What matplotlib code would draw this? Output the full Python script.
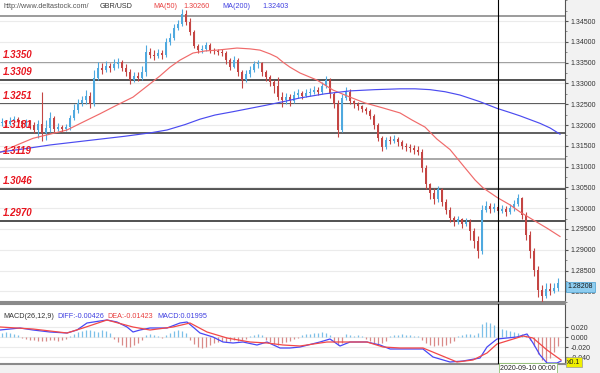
import matplotlib
matplotlib.use('Agg')
import matplotlib.pyplot as plt
from matplotlib.ticker import MultipleLocator, FormatStrFormatter

plt.rcParams['font.family'] = ['Liberation Sans', 'DejaVu Sans']

# GBP/USD candles (open = previous close)
first_open = 1.3205
closes = [
    1.3207, 1.3202, 1.3210, 1.3214, 1.3210, 1.3202, 1.3207, 1.3200, 1.3188, 1.3202,
    1.3181, 1.3193, 1.3217, 1.3190, 1.3195, 1.3190, 1.3195, 1.3217, 1.3236, 1.3253,
    1.3260, 1.3270, 1.3251, 1.3313, 1.3337, 1.3332, 1.3342, 1.3337, 1.3347, 1.3352,
    1.3337, 1.3328, 1.3308, 1.3318, 1.3313, 1.3328, 1.3376, 1.3368, 1.3366, 1.3373,
    1.3368, 1.3400, 1.3409, 1.3433, 1.3443, 1.3467, 1.3448, 1.3424, 1.3390, 1.3380,
    1.3383, 1.3392, 1.3380, 1.3378, 1.3376, 1.3373, 1.3356, 1.3340, 1.3356, 1.3328,
    1.3308, 1.3323, 1.3332, 1.3347, 1.3349, 1.3328, 1.3316, 1.3304, 1.3294, 1.3268,
    1.3260, 1.3268, 1.3258, 1.3272, 1.3277, 1.3270, 1.3277, 1.3280, 1.3284, 1.3280,
    1.3294, 1.3308, 1.3274, 1.3251, 1.3188, 1.3265, 1.3280, 1.3258, 1.3251, 1.3246,
    1.3239, 1.3234, 1.3222, 1.3200, 1.3169, 1.3148, 1.3164, 1.3162, 1.3167, 1.3160,
    1.3150, 1.3148, 1.3145, 1.3141, 1.3136, 1.3097, 1.3057, 1.3037, 1.3023, 1.3045,
    1.3016, 1.2996, 1.2977, 1.2968, 1.2973, 1.2963, 1.2968, 1.2944, 1.2920, 1.2896,
    1.2996, 1.3006, 1.2999, 1.3004, 1.2994, 1.2999, 1.2992, 1.3001, 1.3011, 1.3025,
    1.2984, 1.2936, 1.2896, 1.2852, 1.2804, 1.2790, 1.2806, 1.2802, 1.2809, 1.2821,
]
highs = [
    1.3217, 1.3212, 1.3219, 1.3222, 1.3219, 1.3212, 1.3214, 1.3212, 1.3207, 1.3212,
    1.3280, 1.3212, 1.3232, 1.3222, 1.3205, 1.3200, 1.3202, 1.3224, 1.3251, 1.3263,
    1.3270, 1.3284, 1.3280, 1.3332, 1.3352, 1.3349, 1.3354, 1.3349, 1.3359, 1.3361,
    1.3356, 1.3347, 1.3335, 1.3328, 1.3328, 1.3342, 1.3393, 1.3385, 1.3380, 1.3383,
    1.3380, 1.3409, 1.3421, 1.3443, 1.3453, 1.3479, 1.3477, 1.3457, 1.3428, 1.3395,
    1.3392, 1.3400, 1.3397, 1.3385, 1.3383, 1.3383, 1.3378, 1.3361, 1.3366, 1.3361,
    1.3332, 1.3332, 1.3342, 1.3354, 1.3356, 1.3352, 1.3332, 1.3321, 1.3308, 1.3316,
    1.3280, 1.3277, 1.3275, 1.3282, 1.3287, 1.3282, 1.3287, 1.3289, 1.3294, 1.3292,
    1.3304, 1.3318, 1.3313, 1.3280, 1.3260, 1.3275, 1.3292, 1.3287, 1.3260, 1.3256,
    1.3248, 1.3244, 1.3239, 1.3227, 1.3205, 1.3174, 1.3172, 1.3174, 1.3177, 1.3172,
    1.3164, 1.3157, 1.3155, 1.3153, 1.3150, 1.3143, 1.3105, 1.3061, 1.3049, 1.3054,
    1.3049, 1.3023, 1.3004, 1.2982, 1.2982, 1.2977, 1.2977, 1.2973, 1.2953, 1.2934,
    1.3008, 1.3018, 1.3013, 1.3013, 1.3008, 1.3008, 1.3006, 1.3011, 1.3020, 1.3035,
    1.3028, 1.2992, 1.2944, 1.2905, 1.2862, 1.2816, 1.2819, 1.2819, 1.2821, 1.2831,
]
lows = [
    1.3198, 1.3195, 1.3200, 1.3205, 1.3202, 1.3193, 1.3195, 1.3190, 1.3181, 1.3169,
    1.3162, 1.3164, 1.3183, 1.3183, 1.3186, 1.3183, 1.3186, 1.3188, 1.3212, 1.3229,
    1.3246, 1.3251, 1.3241, 1.3246, 1.3308, 1.3323, 1.3328, 1.3328, 1.3332, 1.3337,
    1.3330, 1.3318, 1.3299, 1.3304, 1.3306, 1.3308, 1.3318, 1.3361, 1.3356, 1.3361,
    1.3359, 1.3364, 1.3392, 1.3404, 1.3428, 1.3438, 1.3441, 1.3417, 1.3385, 1.3373,
    1.3373, 1.3378, 1.3373, 1.3371, 1.3368, 1.3366, 1.3347, 1.3332, 1.3337, 1.3318,
    1.3289, 1.3304, 1.3316, 1.3328, 1.3337, 1.3318, 1.3306, 1.3294, 1.3277, 1.3260,
    1.3244, 1.3251, 1.3246, 1.3253, 1.3265, 1.3263, 1.3268, 1.3270, 1.3275, 1.3272,
    1.3275, 1.3289, 1.3265, 1.3241, 1.3172, 1.3184, 1.3260, 1.3251, 1.3241, 1.3236,
    1.3232, 1.3227, 1.3214, 1.3190, 1.3162, 1.3138, 1.3143, 1.3155, 1.3157, 1.3150,
    1.3143, 1.3138, 1.3136, 1.3131, 1.3128, 1.3088, 1.3047, 1.3023, 1.3011, 1.3016,
    1.3006, 1.2987, 1.2968, 1.2958, 1.2961, 1.2953, 1.2956, 1.2924, 1.2905, 1.2881,
    1.2891, 1.2992, 1.2989, 1.2992, 1.2987, 1.2989, 1.2982, 1.2987, 1.2994, 1.3006,
    1.2973, 1.2924, 1.2881, 1.2838, 1.2787, 1.2773, 1.2785, 1.2792, 1.2797, 1.2802,
]

# moving averages, read at candle positions
ma50_idx = [-0.5, 3.75, 7.75, 12, 16.25, 20.25, 24.5, 28.75, 32.75, 37, 39.5, 42, 44.5,
            47.75, 50.75, 53.75, 58.75, 62, 64.5, 67, 68.75, 70.25, 72, 74.5, 78.75, 80.75,
            82.75, 84.5, 87, 90.75, 95.25, 99.5, 102.5, 105.75, 108.75, 112, 115.75, 118.25,
            120.25, 123.75, 127, 129.5, 132.75, 136.25, 139.5]
ma50_val = [1.3134, 1.3152, 1.3168, 1.3178, 1.3188, 1.3207, 1.3227, 1.3248, 1.3267, 1.3299,
            1.3318, 1.3339, 1.3356, 1.3373, 1.3378, 1.3380, 1.3385, 1.3383, 1.3380, 1.3371,
            1.3363, 1.3351, 1.3339, 1.3325, 1.3308, 1.3296, 1.3284, 1.3277, 1.3267, 1.3253,
            1.3241, 1.3229, 1.3212, 1.3195, 1.3166, 1.3141, 1.3097, 1.3068, 1.3049, 1.3026,
            1.3008, 1.2991, 1.2972, 1.2952, 1.2932]
ma200_idx = [-0.5, 5.75, 12, 18.25, 24.5, 30.75, 37, 41.25, 45.75, 49.5, 53.25, 57.75, 62,
             66.25, 70.75, 74.5, 80.75, 87, 93.25, 99.5, 103.25, 107, 110.75, 114.5, 119.5,
             123.75, 127, 129.5, 134.5, 137, 139.5]
ma200_val = [1.3135, 1.3143, 1.3152, 1.3159, 1.3166, 1.3173, 1.3181, 1.3188, 1.3201, 1.3214,
             1.3224, 1.3232, 1.3240, 1.3248, 1.3257, 1.3265, 1.3275, 1.3282, 1.3285, 1.3287,
             1.3287, 1.3285, 1.3280, 1.3272, 1.3256, 1.3240, 1.3230, 1.3222, 1.3204, 1.3193,
             1.3178]

# MACD(26,12,9)
diff_idx = [-0.5, 4.5, 7.75, 12, 16.25, 18.75, 21.25, 24.5, 26.25, 28.75, 31.25, 32.75,
            34.5, 37, 41.25, 44.5, 46.25, 47.75, 49.5, 52.75, 55.25, 57.75, 60.25, 63.75,
            66.25, 69.5, 72, 74.5, 79.5, 82, 84.5, 87, 91.25, 94.5, 97, 101.25, 105.25,
            107.75, 112, 115.25, 119.5, 121.25, 123.75, 128.75, 131.25, 132.75, 134.5,
            136.25, 138.75, 139.75]
diff_val = [0.014, 0.018, 0.014, 0.010, 0.008, 0.014, 0.028, 0.032, 0.034, 0.030, 0.020, 0.010,
            0.014, 0.018, 0.018, 0.028, 0.030, 0.020, 0.008, 0.000, -0.010, -0.012, -0.010, -0.016,
            -0.010, -0.022, -0.022, -0.020, -0.010, -0.004, -0.018, -0.010, -0.010, -0.016, -0.024,
            -0.024, -0.024, -0.040, -0.050, -0.048, -0.042, -0.020, -0.004, 0.000, 0.006, -0.012,
            -0.036, -0.052, -0.052, -0.048]
dea_idx = [-0.5, 7.75, 16.25, 20.25, 26.25, 32.75, 37, 42.75, 47, 51.25, 56.25, 62, 66.25,
           70.25, 74.5, 81.25, 84.5, 91.25, 95.25, 99.5, 105.25, 109.5, 113.75, 117.75,
           121.25, 123.75, 130.25, 132.75, 136.25, 139.75]
dea_val = [0.020, 0.016, 0.008, 0.018, 0.034, 0.020, 0.014, 0.020, 0.028, 0.010, -0.002, -0.010,
           -0.012, -0.016, -0.018, -0.010, -0.010, -0.010, -0.020, -0.022, -0.022, -0.036, -0.050,
           -0.046, -0.032, -0.014, 0.002, -0.002, -0.026, -0.046]
macd_hist = [
    0.008, 0.010, 0.008, 0.006, 0.004, -0.002, -0.004, -0.006, -0.006, -0.008,
    -0.008, -0.008, -0.006, -0.006, -0.008, -0.006, -0.004, 0.002, 0.006, 0.010,
    0.012, 0.014, 0.014, 0.012, 0.010, 0.014, 0.012, 0.008, -0.004, -0.010,
    -0.016, -0.020, -0.020, -0.016, -0.012, -0.006, 0.004, 0.006, 0.004, 0.002,
    -0.002, 0.004, 0.008, 0.012, 0.014, 0.012, 0.008, -0.006, -0.014, -0.020,
    -0.022, -0.020, -0.016, -0.012, -0.010, -0.008, -0.010, -0.008, -0.006, -0.008,
    -0.006, -0.004, 0.002, 0.004, 0.006, 0.004, -0.006, -0.010, -0.014, -0.016,
    -0.012, -0.010, -0.008, -0.004, -0.002, 0.004, 0.006, 0.006, 0.008, 0.008,
    0.010, 0.008, 0.004, -0.010, -0.016, -0.012, 0.006, 0.004, 0.002, 0.004,
    0.002, -0.004, -0.008, -0.012, -0.014, -0.012, -0.008, 0.002, 0.004, 0.004,
    0.006, 0.004, 0.004, 0.002, 0.002, -0.006, -0.012, -0.016, -0.018, -0.016,
    -0.018, -0.016, -0.012, -0.008, 0.002, 0.004, 0.006, 0.006, 0.004, 0.008,
    0.026, 0.030, 0.028, 0.024, 0.020, 0.016, 0.014, 0.012, 0.010, 0.008,
    0.006, 0.004, -0.006, -0.018, -0.034, -0.046, -0.050, -0.042, -0.030, -0.018,
]

levels = [1.3463, 1.3350, 1.3309, 1.3251, 1.3181, 1.3119, 1.3046, 1.2970]
level_labels = ['1.3463', '1.3350', '1.3309', '1.3251', '1.3181', '1.3119', '1.3046', '1.2970']
price_ticks = [1.280, 1.285, 1.290, 1.295, 1.300, 1.305, 1.310, 1.315, 1.320, 1.325,
               1.330, 1.335, 1.340, 1.345]
macd_ticks = [0.02, 0.0, -0.02, -0.04]
cursor_idx = 124
last_price = 1.28208

W, H = 600, 373
fig = plt.figure(figsize=(6, 3.73), dpi=100, facecolor='#f2f2f2')
ax = fig.add_axes([0, 1 - 302 / H, 565 / W, 302 / H])
ax2 = fig.add_axes([0, 1 - 364 / H, 565 / W, 60 / H])

n = len(closes)
xs = list(range(n))
opens = [first_open] + closes[:-1]
up_c = '#4fa9df'
dn_c = '#c44543'
cols = []
bottoms = []
heights = []
for o, c in zip(opens, closes):
    if c > o:
        cols.append(up_c)
    elif c < o:
        cols.append(dn_c)
    else:
        cols.append('#5cb85c')
    bottoms.append(min(o, c))
    heights.append(max(abs(c - o), 0.00004))

ax.grid(axis='y', color='#ebebeb', lw=0.8, zorder=0)
level_cols = ['#8a8a8a', '#8a8a8a', '#333333', '#333333', '#444444', '#9a9a9a', '#333333', '#333333']
for lev, lab, lc in zip(levels, level_labels, level_cols):
    ax.axhline(lev, color=lc, lw=1.2, zorder=1)
    ax.annotate(lab, xy=(3 / 565, lev), xycoords=('axes fraction', 'data'),
                xytext=(0, 2), textcoords='offset points', fontsize=7,
                fontweight='bold', fontstyle='italic', color='#e8141e', va='bottom', zorder=5)

ax.vlines(xs, lows, highs, colors=cols, lw=0.8, zorder=3)
ax.bar(xs, heights, bottom=bottoms, width=0.6, color=cols, zorder=3)
ax.plot(ma50_idx, ma50_val, color='#f06a6a', lw=0.85, zorder=4)
ax.plot(ma200_idx, ma200_val, color='#4b4bf0', lw=0.85, zorder=4)
ax.axvline(cursor_idx, color='black', lw=0.8, zorder=6)

ax.set_xlim(-0.5, 140.75)
ax.set_ylim(1.27745, 1.35005)
ax.set_xticks([])
ax.yaxis.tick_right()
ax.set_yticks(price_ticks)
ax.yaxis.set_major_formatter(FormatStrFormatter('%.5f'))
ax.yaxis.set_minor_locator(MultipleLocator(0.0025))
ax.tick_params(axis='y', which='major', labelsize=5, length=2.5, pad=1.5,
               colors='#555', labelcolor='#333')
ax.tick_params(axis='y', which='minor', length=1.5, colors='#777')
for s in ['left', 'top']:
    ax.spines[s].set_visible(False)
ax.spines['right'].set_color('#555')
ax.spines['bottom'].set_color('#8a8a8a')
ax.spines['bottom'].set_linewidth(1.5)

ax.annotate('%.5f' % last_price, xy=(1.0, last_price), xycoords=('axes fraction', 'data'),
            xytext=(2, -3), textcoords='offset points', fontsize=5, color='#1a1a1a',
            va='center', ha='left', annotation_clip=False,
            bbox=dict(boxstyle='square,pad=0.25', fc='#8ecdf0', ec='#5aa9d6', lw=0.6))

# MACD panel
ax2.grid(axis='y', color='#ebebeb', lw=0.8, zorder=0)
hcols = ['#7cc0e8' if v >= 0 else '#d98a88' for v in macd_hist]
ax2.vlines(xs, 0, macd_hist, colors=hcols, lw=0.9, zorder=2)
ax2.plot(diff_idx, diff_val, color='#4848f5', lw=0.9, zorder=3)
ax2.plot(dea_idx, dea_val, color='#f24848', lw=0.9, zorder=3)
ax2.axvline(cursor_idx, color='black', lw=0.8, zorder=6)
ax2.set_xlim(-0.5, 140.75)
ax2.set_ylim(-0.054, 0.066)
ax2.set_xticks([])
ax2.yaxis.tick_right()
ax2.set_yticks(macd_ticks)
ax2.yaxis.set_major_formatter(FormatStrFormatter('%.3f'))
ax2.tick_params(axis='y', labelsize=5, length=2.5, pad=1.5, colors='#555', labelcolor='#333')
ax2.spines['left'].set_visible(False)
ax2.spines['right'].set_color('#555')
for s in ['top', 'bottom']:
    ax2.spines[s].set_color('#8a8a8a')
    ax2.spines[s].set_linewidth(1.5)

# header texts
ty = 1 - 7 / H
fig.text(3 / W, ty, 'http://www.deltastock.com/', fontsize=5.2, color='#555', va='center',
         bbox=dict(boxstyle='square,pad=0.15', fc='white', ec='none'), zorder=10)
fig.text(100 / W, ty, 'GBR/USD', fontsize=5.2, color='#333', va='center')
fig.text(153 / W, ty, 'MA(50)', fontsize=5.2, color='#e84040', va='center')
fig.text(183 / W, ty, '1.30260', fontsize=5.2, color='#e84040', va='center')
fig.text(222 / W, ty, 'MA(200)', fontsize=5.2, color='#4040e0', va='center')
fig.text(262 / W, ty, '1.32403', fontsize=5.2, color='#4040e0', va='center')

my = 1 - 316 / H
fig.text(3 / W, my, 'MACD(26,12,9)', fontsize=5.2, color='#333', va='center')
fig.text(57 / W, my, 'DIFF:-0.00426', fontsize=5.2, color='#4040e0', va='center')
fig.text(107 / W, my, 'DEA:-0.01423', fontsize=5.2, color='#e84040', va='center')
fig.text(157 / W, my, 'MACD:0.01995', fontsize=5.2, color='#4040e0', va='center')

fig.text(567 / W, 1 - 362 / H, 'x0.1', fontsize=5, color='#222', va='center',
         bbox=dict(boxstyle='square,pad=0.2', fc='#f0f000', ec='#999', lw=0.5))
fig.text(528 / W, 1 - 368 / H, '2020-09-10 00:00', fontsize=5, color='#222', va='center',
         ha='center', bbox=dict(boxstyle='square,pad=0.2', fc='white', ec='#8fc06f', lw=0.6))

fig.savefig('out.png', dpi=100, facecolor=fig.get_facecolor())
